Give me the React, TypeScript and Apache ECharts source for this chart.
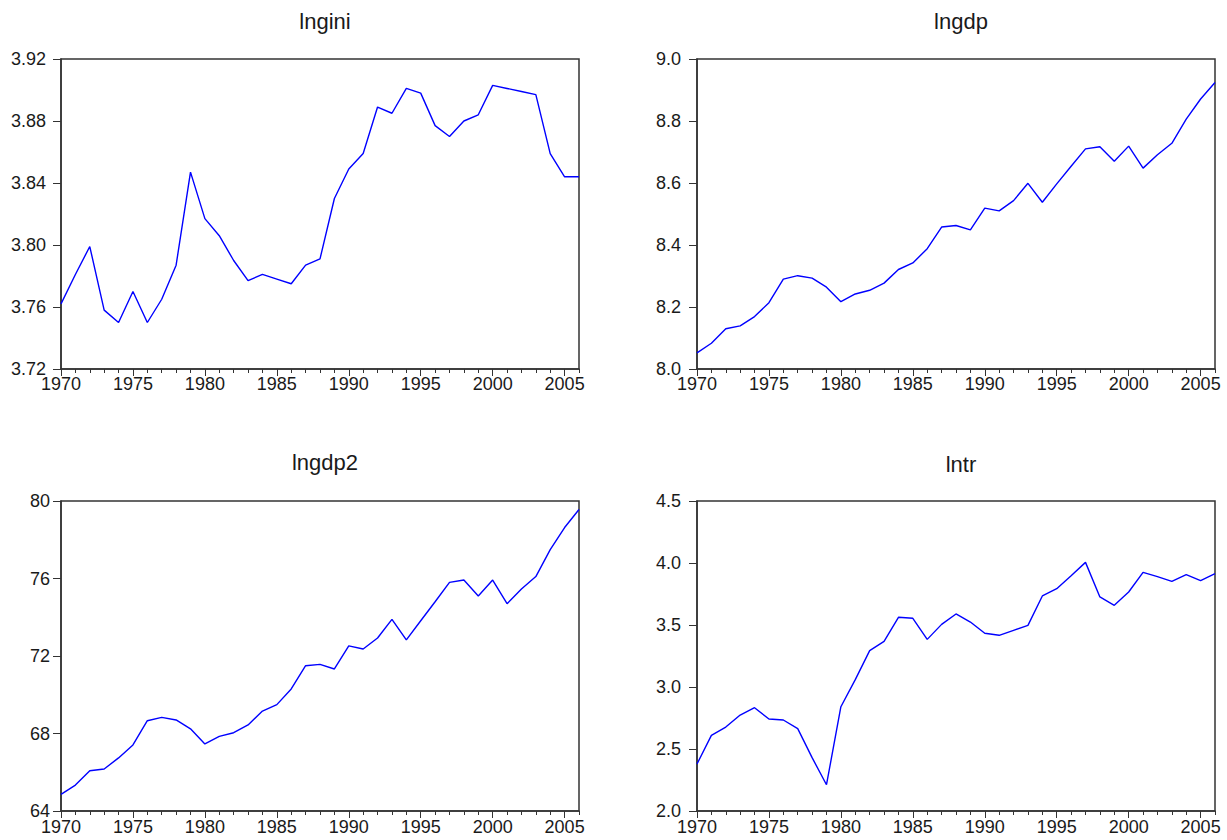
import React, { useEffect, useRef } from "react";
import * as echarts from "echarts";

const years = [
  "1970", "1971", "1972", "1973", "1974", "1975", "1976", "1977", "1978", "1979",
  "1980", "1981", "1982", "1983", "1984", "1985", "1986", "1987", "1988", "1989",
  "1990", "1991", "1992", "1993", "1994", "1995", "1996", "1997", "1998", "1999",
  "2000", "2001", "2002", "2003", "2004", "2005", "2006",
];

const lngini = [
  3.762, 3.781, 3.799, 3.758, 3.750, 3.770, 3.750, 3.765, 3.787, 3.847,
  3.817, 3.806, 3.790, 3.777, 3.781, 3.778, 3.775, 3.787, 3.791, 3.830,
  3.849, 3.859, 3.889, 3.885, 3.901, 3.898, 3.877, 3.870, 3.880, 3.884,
  3.903, 3.901, 3.899, 3.897, 3.859, 3.844, 3.844,
];

const lngdp = [
  8.052, 8.083, 8.130, 8.139, 8.169, 8.214, 8.290, 8.301, 8.293, 8.264,
  8.217, 8.242, 8.254, 8.277, 8.321, 8.342, 8.388, 8.458, 8.463, 8.449,
  8.519, 8.510, 8.543, 8.599, 8.538, 8.597, 8.654, 8.710, 8.717, 8.670,
  8.719, 8.648, 8.691, 8.728, 8.806, 8.871, 8.924,
];

const lngdp2 = [
  64.86, 65.34, 66.08, 66.17, 66.74, 67.41, 68.66, 68.83, 68.70, 68.24,
  67.46, 67.85, 68.04, 68.44, 69.16, 69.49, 70.30, 71.50, 71.57, 71.33,
  72.52, 72.36, 72.93, 73.89, 72.83, 73.82, 74.80, 75.80, 75.92, 75.10,
  75.92, 74.70, 75.46, 76.10, 77.49, 78.63, 79.56,
];

const lntr = [
  2.379, 2.610, 2.677, 2.774, 2.833, 2.742, 2.734, 2.664, 2.430, 2.212,
  2.841, 3.059, 3.293, 3.368, 3.562, 3.554, 3.384, 3.505, 3.589, 3.524,
  3.433, 3.417, 3.457, 3.497, 3.734, 3.793, 3.898, 4.005, 3.726, 3.659,
  3.766, 3.925, 3.890, 3.852, 3.906, 3.858, 3.914,
];

const titles = ["lngini", "lngdp", "lngdp2", "lntr"];
const seriesList = [lngini, lngdp, lngdp2, lntr];
const yMins = [3.72, 8.0, 64, 2.0];
const yMaxs = [3.92, 9.0, 80, 4.5];
const yIntervals = [0.04, 0.2, 4, 0.5];
const yDecimals = [2, 1, 0, 1];

const FONT = 'Arial, "Liberation Sans", sans-serif';
const AXIS_COLOR = "#333333";
const TEXT_COLOR = "#1a1a1a";

export default function App() {
  const ref = useRef<HTMLDivElement>(null);

  useEffect(() => {
    if (!ref.current) return;
    const chart = echarts.init(ref.current, undefined, { renderer: "svg" });

    const gridPos = [
      { left: 61, top: 59 },
      { left: 697, top: 59 },
      { left: 61, top: 501 },
      { left: 697, top: 501 },
    ];
    const yMargins = [15, 16, 11, 16];
    const xMargins = [8, 8, 9, 9];
    const titlePos = [
      { left: 320, top: 5 },
      { left: 956, top: 5 },
      { left: 320, top: 446 },
      { left: 956, top: 448 },
    ];

    const grids: any[] = [];
    const xAxes: any[] = [];
    const yAxes: any[] = [];
    const series: any[] = [];
    const title: any[] = [];

    for (let i = 0; i < 4; i++) {
      grids.push({
        left: gridPos[i].left,
        top: gridPos[i].top,
        width: 518,
        height: 310,
        show: true,
        borderColor: AXIS_COLOR,
        borderWidth: 1.5,
        backgroundColor: "transparent",
        containLabel: false,
      });
      xAxes.push({
        type: "category",
        gridIndex: i,
        data: years,
        boundaryGap: false,
        position: "bottom",
        axisLine: { show: true, lineStyle: { color: AXIS_COLOR, width: 1.5 } },
        axisTick: {
          show: true,
          interval: (idx: number) => idx % 5 === 0,
          length: 7,
          lineStyle: { color: AXIS_COLOR, width: 1 },
        },
        axisLabel: {
          interval: (idx: number) => idx % 5 === 0,
          fontSize: 18,
          lineHeight: 14,
          fontFamily: FONT,
          color: TEXT_COLOR,
          margin: xMargins[i],
        },
        splitLine: { show: false },
      });
      xAxes.push({
        type: "category",
        gridIndex: i,
        data: years,
        boundaryGap: false,
        position: "bottom",
        axisLine: { show: false },
        axisTick: {
          show: true,
          interval: 0,
          length: 4,
          lineStyle: { color: AXIS_COLOR, width: 1 },
        },
        axisLabel: { show: false },
        splitLine: { show: false },
      });
      const dec = yDecimals[i];
      yAxes.push({
        type: "value",
        gridIndex: i,
        min: yMins[i],
        max: yMaxs[i],
        interval: yIntervals[i],
        axisLine: { show: true, lineStyle: { color: AXIS_COLOR, width: 1.5 } },
        axisTick: { show: true, length: 8, lineStyle: { color: AXIS_COLOR, width: 1 } },
        axisLabel: {
          fontSize: 18,
          lineHeight: 14,
          fontFamily: FONT,
          color: TEXT_COLOR,
          margin: yMargins[i],
          formatter: (v: number) => v.toFixed(dec),
        },
        splitLine: { show: false },
      });
      series.push({
        type: "line",
        name: titles[i],
        xAxisIndex: i * 2,
        yAxisIndex: i,
        data: seriesList[i],
        showSymbol: false,
        symbol: "none",
        lineStyle: { color: "#0000ff", width: 1.4 },
        z: 3,
      });
      title.push({
        text: titles[i],
        left: titlePos[i].left,
        top: titlePos[i].top,
        textAlign: "center",
        textStyle: {
          fontSize: 22,
          fontWeight: "normal",
          fontFamily: FONT,
          color: TEXT_COLOR,
        },
      });
    }

    chart.setOption({
      animation: false,
      backgroundColor: "#ffffff",
      title,
      grid: grids,
      xAxis: xAxes,
      yAxis: yAxes,
      series,
    });

    return () => chart.dispose();
  }, []);

  return (
    <div
      ref={ref}
      style={{ position: "absolute", left: 0, top: 0, width: 1227, height: 840 }}
    />
  );
}
